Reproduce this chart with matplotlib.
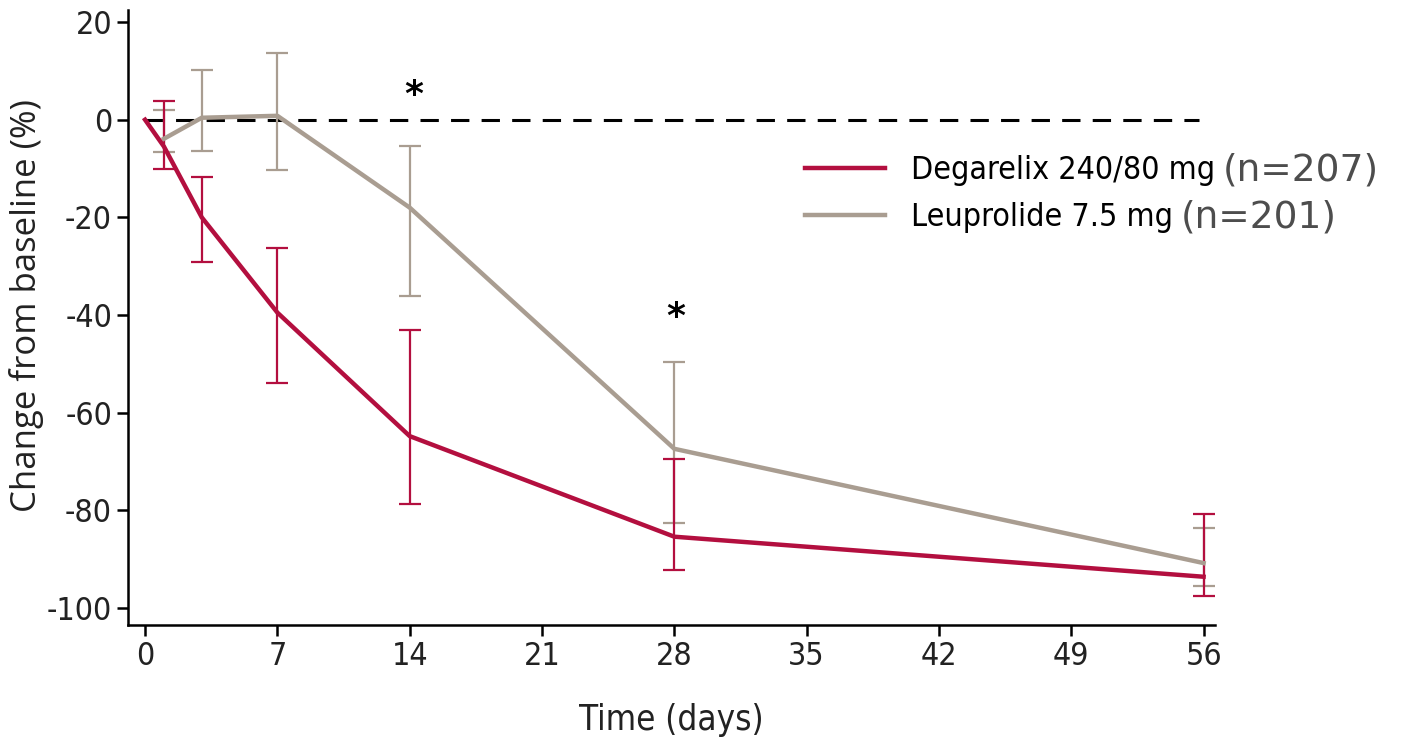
import matplotlib.pyplot as plt

# Data
days_deg = [0, 1, 3, 7, 14, 28, 56]
deg_mean = [0, -5.5, -20, -39.5, -64.8, -85.4, -93.6]
deg_err_days = [1, 3, 7, 14, 28, 56]
deg_upper = [3.8, -11.8, -26.2, -43, -69.5, -80.8]
deg_lower = [-10, -29.2, -54, -78.7, -92.2, -97.5]

days_leu = [1, 3, 7, 14, 28, 56]
leu_mean = [-3.9, 0.4, 0.8, -18, -67.4, -90.8]
leu_upper = [2, 10.2, 13.7, -5.4, -49.6, -83.6]
leu_lower = [-6.7, -6.5, -10.4, -36.2, -82.6, -95.5]

x_ticks = [0, 7, 14, 21, 28, 35, 42, 49, 56]
y_ticks = [20, 0, -20, -40, -60, -80, -100]
star_pos = [(14.2, 5), (28.1, -40.5)]
legend_names = ['Degarelix 240/80 mg', 'Leuprolide 7.5 mg']
legend_n = ['(n=207)', '(n=201)']

red = '#B30F3F'
gray = '#A99D91'
narrow = dict(family='DejaVu Sans', stretch='condensed')

fig = plt.figure(figsize=(14.07, 7.38), dpi=100)
ax = fig.add_axes([0.091, 0.153, 0.7725, 0.833])

ax.axhline(0, xmin=0.0155, xmax=0.9855, color='black', lw=2.2, dashes=(6, 4))

# error bars
for d, lo, hi in zip(days_leu, leu_lower, leu_upper):
    ax.errorbar([d], [(lo + hi) / 2], yerr=[[(hi - lo) / 2]], fmt='none',
                ecolor=gray, elinewidth=1.6, capsize=8, capthick=1.6)
for d, lo, hi in zip(deg_err_days, deg_lower, deg_upper):
    ax.errorbar([d], [(lo + hi) / 2], yerr=[[(hi - lo) / 2]], fmt='none',
                ecolor=red, elinewidth=1.6, capsize=8, capthick=1.6)

l_leu, = ax.plot(days_leu, leu_mean, color=gray, lw=3.2)
l_deg, = ax.plot(days_deg, deg_mean, color=red, lw=3.2)

for x, y in star_pos:
    ax.text(x, y, '*', fontsize=26, fontweight='bold', ha='center', va='center')

ax.set_xlim(-0.9, 56.6)
ax.set_ylim(-103.5, 22.4)
ax.set_xticks(x_ticks)
ax.set_yticks(y_ticks)
ax.set_xticklabels([str(t) for t in x_ticks], fontsize=23, **narrow)
ax.set_yticklabels([str(t) for t in y_ticks], fontsize=23, **narrow)
ax.tick_params(direction='out', length=8, width=1.8, color='black', labelcolor='#222222')
for s in ['top', 'right']:
    ax.spines[s].set_visible(False)
for s in ['left', 'bottom']:
    ax.spines[s].set_linewidth(1.8)

ax.set_xlabel('Time (days)', fontsize=25, color='#222222', labelpad=22, **narrow)
ax.set_ylabel('Change from baseline (%)', fontsize=25, family='Open Sans', color='#222222')
ax.yaxis.set_label_coords(-0.077, 0.519)

leg = ax.legend([l_deg, l_leu], legend_names, loc='upper left',
                bbox_to_anchor=(0.623, 0.765), frameon=False, borderpad=0, borderaxespad=0,
                prop={'family': 'DejaVu Sans', 'stretch': 'condensed', 'size': 23},
                handlelength=2.5, handletextpad=0.8, labelspacing=0.5)

# the "(n=...)" part is set in a larger, darker font right after each legend label
fig.canvas.draw()
inv = fig.transFigure.inverted()
for t, n in zip(leg.get_texts(), legend_n):
    bb = t.get_window_extent()
    fx, fy = inv.transform((bb.x1 + 8, (bb.y0 + bb.y1) / 2))
    fig.text(fx, fy, n, va='center', ha='left', fontsize=27, color='#4d4d4d',
             family='DejaVu Sans')

fig.savefig('out.png', dpi=100)
